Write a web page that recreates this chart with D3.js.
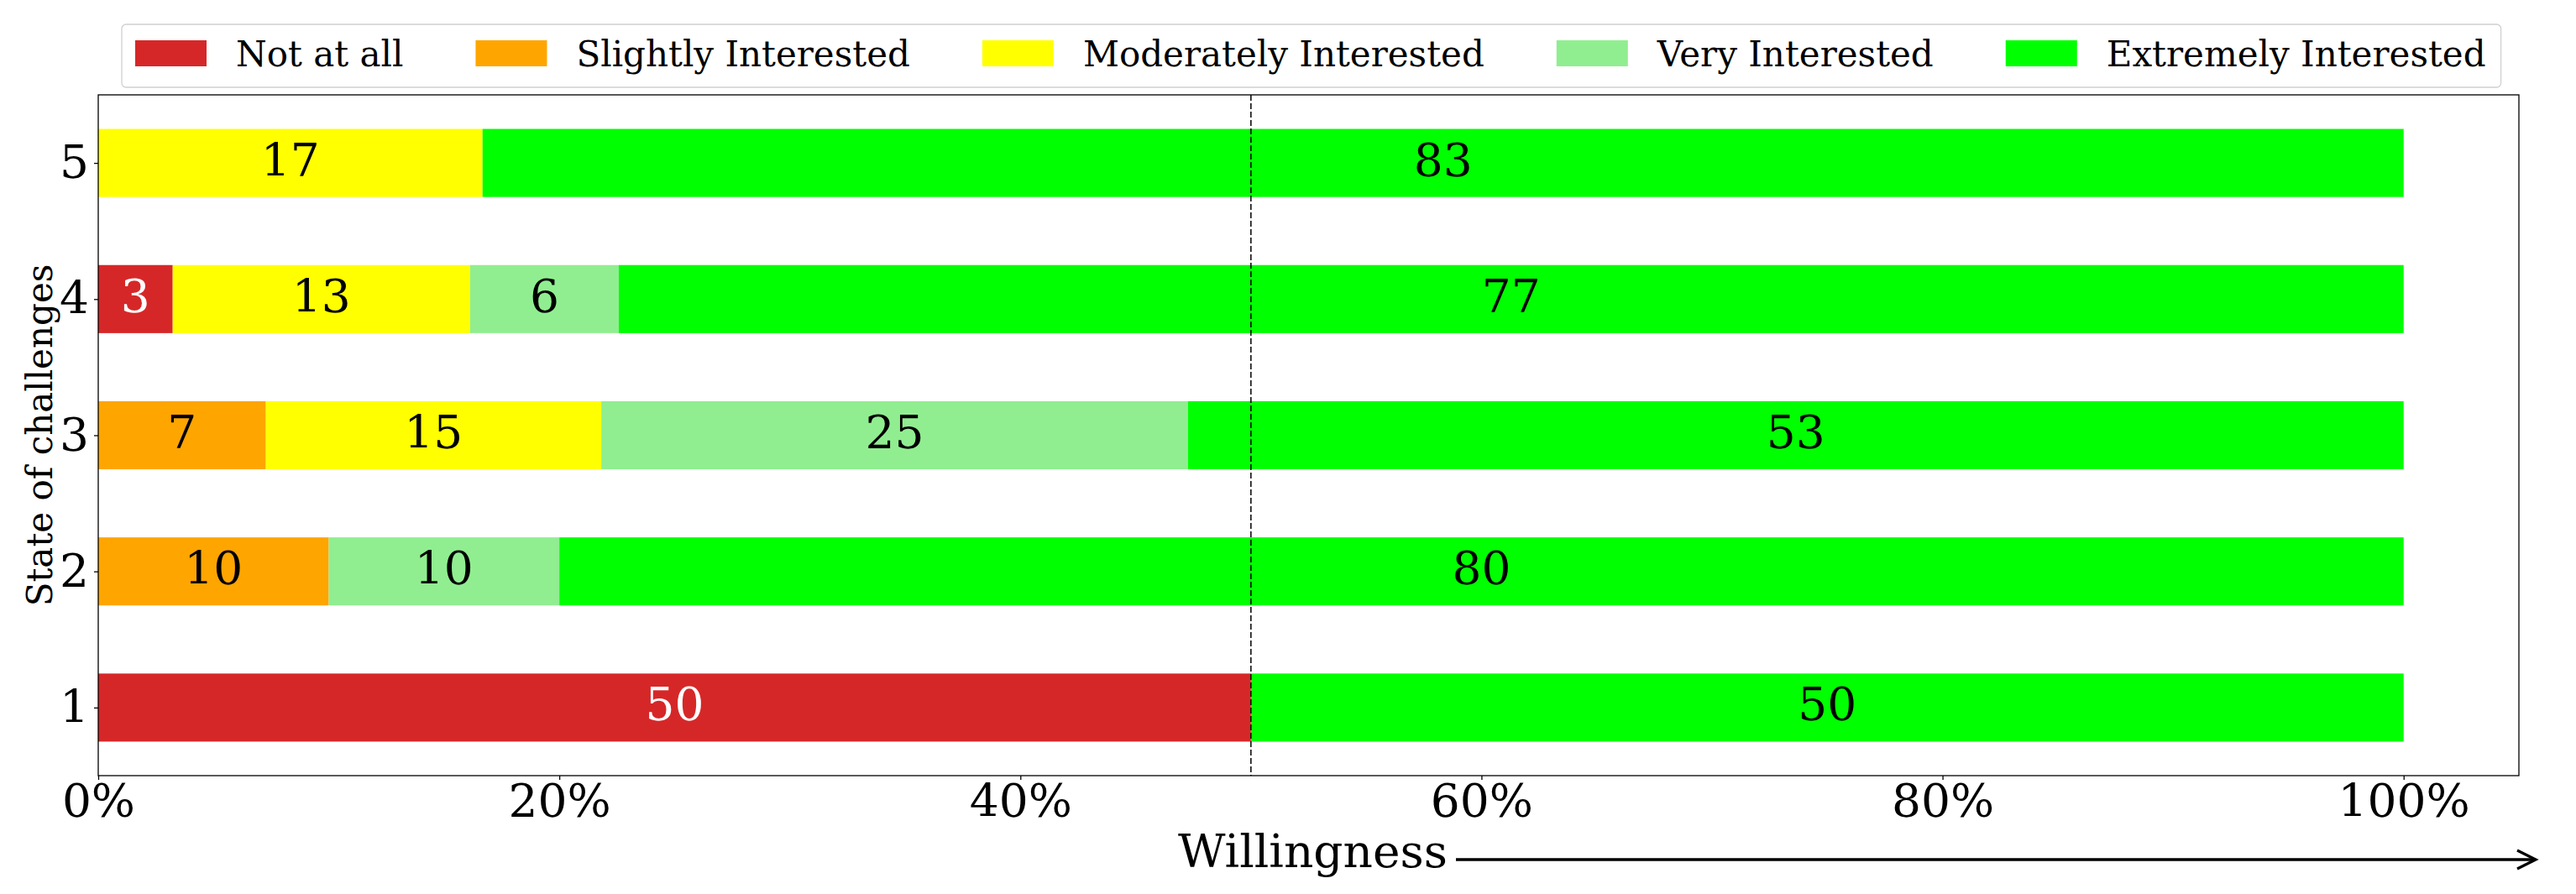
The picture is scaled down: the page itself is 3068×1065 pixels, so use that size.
<!DOCTYPE html>
<html>
<head>
<meta charset="utf-8">
<script src="https://cdn.jsdelivr.net/npm/d3@7"></script>
<style>
    html, body {margin: 0; padding: 0; background: #fff;}
    svg {display: block;}
    text {font-family: 'DejaVu Serif', serif;}
</style>
</head>
<body>
<div id="chart"></div>
<script>
// 数据
const categories = [1, 2, 3, 4, 5]; // State of challenges
const levels = ['Not at all', 'Slightly Interested', 'Moderately Interested', 'Very Interested', 'Extremely Interested'];
const notAtAll = [50, 0, 0, 3.23, 0];
const slightly = [0, 10, 7.27, 0, 0];
const moderately = [0, 0, 14.55, 12.9, 16.67];
const very = [0, 10, 25.45, 6.45, 0];
const extremely = [50, 80, 52.73, 77.42, 83.33];
const xTicks = [0, 20, 40, 60, 80, 100];
const colors = ['#d62728', '#ffa500', '#ffff00', '#90ee90', '#00ff00'];

let width = 3068;
let height = 1065;
let plot = {left: 117, right: 3000, top: 113, bottom: 924};
let bigFont = 55;
let smallFont = 42;

let svg = d3.select('#chart').append('svg')
    .attr('width', width)
    .attr('height', height);

let x = d3.scaleLinear().domain([0, 105]).range([plot.left, plot.right]);
let y = d3.scaleLinear().domain([0.5, 5.5]).range([plot.bottom, plot.top]);

// 每行一条记录，给 d3.stack 用
let series = [notAtAll, slightly, moderately, very, extremely];
let rows = categories.map((c, i) => {
    let r = {cat: c};
    levels.forEach((l, j) => { r[l] = series[j][i]; });
    return r;
});
let stacked = d3.stack().keys(levels)(rows);

drawBars();
drawAxes();
drawMidLine();
drawLegend();
drawLabels();

/*
 * 堆叠条形 + 数值
 */
function drawBars() {
    let barH = y(0) - y(0.5);
    let g = svg.append('g');
    stacked.forEach((s, k) => {
        let segs = s.filter(d => d[1] - d[0] > 0);
        g.selectAll('rect.s' + k)
            .data(segs)
            .enter()
            .append('rect')
            .attr('x', d => x(d[0]))
            .attr('y', d => y(d.data.cat) - barH / 2)
            .attr('width', d => x(d[1]) - x(d[0]))
            .attr('height', barH)
            .attr('fill', colors[k]);
        g.selectAll('text.s' + k)
            .data(segs)
            .enter()
            .append('text')
            .attr('x', d => (x(d[0]) + x(d[1])) / 2)
            .attr('y', d => y(d.data.cat))
            .attr('dy', '0.28em')
            .attr('text-anchor', 'middle')
            .attr('font-size', bigFont + 'px')
            .attr('fill', k === 0 ? '#fff' : '#000')
            .text(d => d3.format('.0f')(d[1] - d[0]));
    });
}

/*
 * 坐标轴和边框
 */
function drawAxes() {
    let xAxis = svg.append('g')
        .attr('transform', `translate(0,${plot.bottom})`)
        .call(d3.axisBottom(x).tickValues(xTicks).tickFormat(d => d + '%').tickSizeInner(5).tickSizeOuter(0).tickPadding(5));
    let yAxis = svg.append('g')
        .attr('transform', `translate(${plot.left},0)`)
        .call(d3.axisLeft(y).tickValues(categories).tickFormat(d3.format('d')).tickSizeInner(5).tickSizeOuter(0).tickPadding(6));
    [xAxis, yAxis].forEach(a => {
        a.select('.domain').remove();
        a.selectAll('line').attr('stroke', '#000').attr('stroke-width', 1.3);
        a.selectAll('text')
            .attr('font-family', 'DejaVu Serif')
            .attr('font-size', bigFont + 'px')
            .attr('fill', '#000');
    });

    svg.append('rect')
        .attr('x', plot.left)
        .attr('y', plot.top)
        .attr('width', plot.right - plot.left)
        .attr('height', plot.bottom - plot.top)
        .attr('fill', 'none')
        .attr('stroke', '#000')
        .attr('stroke-width', 1.3);
}

/*
 * 50% 虚线
 */
function drawMidLine() {
    svg.append('line')
        .attr('x1', x(50)).attr('x2', x(50))
        .attr('y1', plot.top).attr('y2', plot.bottom)
        .attr('stroke', '#000')
        .attr('stroke-width', 1.5)
        .attr('stroke-dasharray', '7,3');
}

/*
 * 图例 一行五列
 */
function drawLegend() {
    let box = svg.append('rect')
        .attr('x', 145).attr('y', 29)
        .attr('height', 75)
        .attr('rx', 5)
        .attr('fill', '#fff')
        .attr('stroke', '#d0d0d0')
        .attr('stroke-width', 1.3);
    let cx = 161;
    levels.forEach((l, i) => {
        svg.append('rect')
            .attr('x', cx).attr('y', 48)
            .attr('width', 85).attr('height', 31)
            .attr('fill', colors[i]);
        let t = svg.append('text')
            .attr('x', cx + 120)
            .attr('y', 79)
            .attr('font-size', smallFont + 'px')
            .attr('fill', '#000')
            .text(l);
        cx = cx + 120 + t.node().getComputedTextLength() + (i < levels.length - 1 ? 86 : 18);
    });
    box.attr('width', cx - 145);
}

/*
 * 轴标题和箭头
 */
function drawLabels() {
    svg.append('text')
        .attr('transform', `translate(62,${(plot.top + plot.bottom) / 2}) rotate(-90)`)
        .attr('text-anchor', 'middle')
        .attr('font-size', smallFont + 'px')
        .text('State of challenges');

    svg.append('text')
        .attr('x', 1403)
        .attr('y', 1033)
        .attr('font-size', bigFont + 'px')
        .text('Willingness');

    svg.append('line')
        .attr('x1', 1734).attr('x2', 3019)
        .attr('y1', 1024).attr('y2', 1024)
        .attr('stroke', '#000')
        .attr('stroke-width', 3.3);
    svg.append('path')
        .attr('d', 'M2998,1013 L3020,1024 L2998,1035')
        .attr('fill', 'none')
        .attr('stroke', '#000')
        .attr('stroke-width', 3.3);
}
</script>
</body>
</html>
